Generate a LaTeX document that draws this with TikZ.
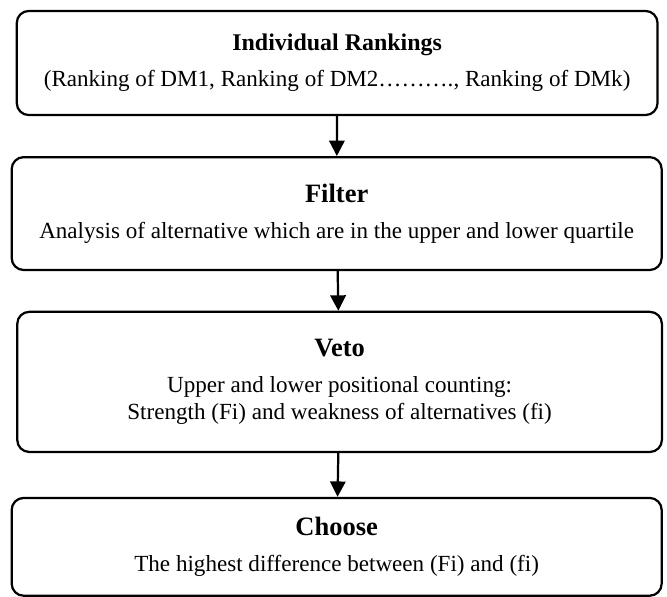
\documentclass[tikz,border=0pt]{standalone}
\usepackage{fontspec}
\setmainfont{Liberation Serif}
\usetikzlibrary{arrows.meta}

\begin{document}
\begin{tikzpicture}[bnode/.style={draw,rectangle,rounded corners=7pt,line width=1.3pt,align=center,inner sep=3pt,font=\fontsize{13.5}{16}\selectfont}, arr/.style={-{Triangle[length=9pt,width=9pt]},line width=1.3pt}]
    \useasboundingbox (0,0) rectangle (13.71,-12.27);
    \node[bnode,minimum width=13.17cm,minimum height=2.14cm] (0) at (6.93,-1.295) {{\fontsize{14}{17}\selectfont\bfseries Individual Rankings}\\[5pt](Ranking of DM1, Ranking of DM2………., Ranking of DMk)};
    \node[bnode,minimum width=13.36cm,minimum height=2.32cm] (1) at (6.92,-4.39) {{\fontsize{15.5}{18}\selectfont\bfseries Filter}\\[5pt]Analysis of alternative which are in the upper and lower quartile};
    \node[bnode,minimum width=13.25cm,minimum height=2.88cm] (2) at (6.98,-7.85) {{\fontsize{15.5}{18}\selectfont\bfseries Veto}\\[5pt]Upper and lower positional counting:\\Strength (Fi) and weakness of alternatives (fi)};
    \node[bnode,minimum width=13.36cm,minimum height=2.01cm] (3) at (6.92,-11.24) {{\fontsize{15.5}{18}\selectfont\bfseries Choose}\\[5pt]The highest difference between (Fi) and (fi)};

    \draw[arr] (0) -- (1) ;
    \draw[arr] (1) -- (2) ;
    \draw[arr] (2) -- (3) ;
\end{tikzpicture}
\end{document}
